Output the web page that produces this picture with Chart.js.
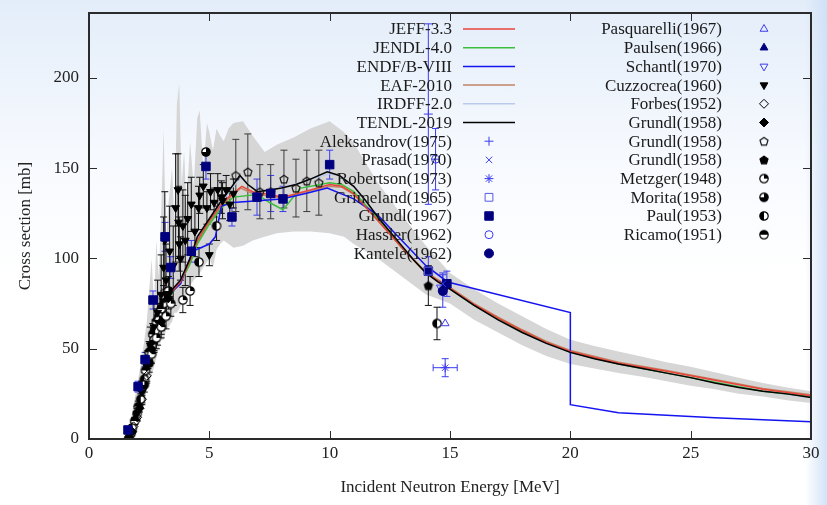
<!DOCTYPE html>
<html>
<head>
<meta charset="utf-8">
<script src="https://cdn.jsdelivr.net/npm/chart.js@4.4.0/dist/chart.umd.min.js"></script>
<style>
html, body { margin: 0; padding: 0; }
body {
	width: 827px;
	height: 505px;
	overflow: hidden;
	background:
		linear-gradient(to left, rgba(205, 224, 247, 0.9) 0px, rgba(255, 255, 255, 0) 22px),
		linear-gradient(to bottom, #e3edf9 0%, #f6f9fe 30%, #ffffff 55%);
}
#wrap { position: relative; width: 827px; height: 505px; }
</style>
</head>
<body>
<div id="wrap"><canvas id="xsCanvas"></canvas></div>
<script>
// evaluated cross sections [MeV] / [mb]
const tendlE = [1.6, 1.8, 2.0, 2.3, 2.6, 3.0, 3.4, 3.8, 4.2, 4.5, 5.0, 5.5, 6.0, 6.27, 6.6, 7.0, 7.5, 8.0, 8.6, 9.2, 9.9, 10.4, 11, 11.5, 12, 12.5, 13, 13.5, 14, 14.5, 15, 16, 17, 18, 19, 20, 21, 22, 23, 24, 25, 26, 27, 28, 29, 30];
const tendlXS = [0, 5, 15, 35, 55, 72, 82, 88, 100, 112, 122, 132, 141, 146, 141, 137, 138, 139, 141, 144, 148, 146, 140, 132, 123, 115, 107, 99, 92, 87, 83, 74, 66, 59, 53, 48, 44.5, 41.5, 39, 36.5, 34, 31, 28.5, 26.5, 25, 23];

const jeffE = [1.6, 1.8, 2.0, 2.3, 2.6, 3.0, 3.4, 3.8, 4.2, 4.5, 5.0, 5.5, 5.8, 6.35, 6.8, 7.5, 8.06, 9.2, 10.0, 10.5, 11, 12, 13, 14, 15, 16, 17, 18, 19, 20, 22, 24, 26, 28, 30];
const jeffXS = [0, 5, 15, 34, 54, 71, 81, 87, 99, 110, 121, 130, 134, 140, 137, 135.5, 134, 138, 141, 140, 136, 121, 106, 92, 83.5, 74.5, 67, 60, 53.5, 48.5, 42, 37.5, 32.5, 27.5, 24];

const jendlE = [1.6, 1.8, 2.0, 2.3, 2.6, 3.0, 3.4, 3.8, 4.2, 4.5, 5.0, 5.5, 6.0, 7.0, 7.5, 8.06, 8.8, 10.0, 10.5, 11, 12, 13, 14, 15, 16, 17, 18, 19, 20, 22, 24, 26, 28, 30];
const jendlXS = [0, 5, 14, 33, 53, 70, 80, 87, 97, 108, 119, 128, 134, 135.5, 131, 127, 139, 142, 141, 137, 122, 106, 92, 83, 74, 66.5, 59.5, 53.5, 48, 41.5, 36.5, 31.5, 26.5, 23.5];

const endfE = [1.6, 1.8, 2.0, 2.3, 2.6, 3.0, 3.4, 3.8, 4.3, 5.0, 5.25, 5.5, 6.0, 7.0, 8.0, 9.0, 9.9, 11, 12, 13, 14, 14.9, 20, 20.001, 22, 26, 30];
const endfXS = [0, 5, 15, 35, 55, 72, 81, 86, 104, 108, 112, 129, 131, 132, 133, 136, 139, 133, 124, 110, 96, 87, 70, 19, 14.5, 11.8, 9.5];

const eafE = [1.6, 1.8, 2.0, 2.3, 2.6, 3.0, 3.4, 3.8, 4.2, 4.5, 5.0, 5.5, 5.8, 6.3, 6.8, 7.5, 8.06, 9.2, 10.0, 10.5, 11, 12, 13, 14, 15, 16, 17, 18, 19, 20, 22, 24, 26, 28, 30];
const eafXS = [0, 5, 15, 34, 54, 71, 81, 86, 98, 109, 120, 129, 133, 139, 136, 134.5, 133.5, 137.5, 140, 139.5, 135.5, 121, 106, 92.5, 84, 75, 67.5, 60.5, 54, 49, 42.5, 38, 33, 28, 24.5];

const irdffE = [1.6, 1.8, 2.0, 2.3, 2.6, 3.0, 3.4, 3.8, 4.2, 4.5, 5.0, 5.5, 6.0, 6.3, 6.7, 7.0, 8.0, 9.0, 10.0, 10.5, 11, 12, 13, 14, 15, 16, 17, 18, 19, 20, 22, 24, 26, 28, 30];
const irdffXS = [0, 5, 15, 35, 55, 72, 82, 88, 100, 111, 121, 131, 140, 145, 140, 137, 139, 143, 147, 145.5, 140, 123, 107, 92, 83, 74, 66, 59, 53, 48, 41.5, 36.5, 31.5, 26.5, 23];

// TENDL uncertainty band
const bandE = [1.6, 1.8, 2.0, 2.2, 2.4, 2.6, 2.7, 2.8, 2.9, 3.0, 3.1, 3.2, 3.3, 3.45, 3.55, 3.65, 3.75, 3.85, 3.95, 4.05, 4.2, 4.35, 4.5, 4.6, 4.75, 4.9, 5.0, 5.15, 5.3, 5.45, 5.6, 5.8, 6.0, 6.4, 6.8, 7.3, 7.8, 8.5, 9.2, 10.0, 10.6, 11, 12, 13, 14, 15, 16, 17, 18, 19, 20, 21, 22, 23, 24, 25, 26, 27, 28, 29, 30];
const bandHi = [3, 15, 30, 45, 65, 100, 75, 110, 90, 125, 172, 110, 130, 150, 120, 185, 197, 140, 160, 130, 165, 140, 178, 182, 150, 175, 170, 160, 172, 168, 165, 172, 175, 176, 168, 159, 163, 167, 172, 176, 170, 164, 142, 124, 107, 92, 83, 75, 68, 61, 55, 51.5, 48.5, 45.5, 42.5, 40, 37, 34, 31, 28.5, 26.5];
const bandLo = [0, 2, 8, 18, 28, 35, 40, 45, 50, 55, 55, 60, 62, 65, 70, 70, 72, 75, 78, 80, 85, 88, 90, 92, 95, 98, 100, 95, 105, 108, 110, 108, 106, 107, 110, 112, 114, 115, 115, 114, 112, 108, 100, 90, 80, 75, 66, 59, 52, 46, 41.5, 39, 36.5, 34.5, 32, 29.5, 27.5, 25, 23.5, 21.5, 20];

// measurements: energy, cross section, uncertainty
const aleksE = [14.1, 14.4];
const aleksXS = [180, 155];
const aleksErr = [50, 0];

const prasadE = [14.7];
const prasadXS = [86];
const prasadErr = [6];

const robertsonE = [14.8];
const robertsonXS = [39.5];
const robertsonErr = [5];
const robertsonXErr = [0.5];

const grimelandE = [14.1];
const grimelandXS = [93];
const grimelandErr = [0];

const grundl67E = [1.62, 2.04, 2.33, 2.66, 3.16, 3.4, 4.25, 4.86, 5.94, 6.98, 7.55, 8.06, 10.0, 14.1, 14.87];
const grundl67XS = [5, 29, 44, 77, 112, 95, 104, 151, 123, 134, 136, 133, 152, 93, 86];
const grundl67Err = [2, 3, 4, 5, 8, 6, 6, 7, 5, 10, 10, 7, 8, 8, 7];

const hasslerE = [14.4];
const hasslerXS = [155];
const hasslerErr = [17];

const kanteleE = [14.7];
const kanteleXS = [82];
const kanteleErr = [9];

const pasquarelliE = [14.8];
const pasquarelliXS = [64];
const pasquarelliErr = [0];

const paulsenE = [14.75];
const paulsenXS = [84];
const paulsenErr = [0];

const schantlE = [14.6];
const schantlXS = [84];
const schantlErr = [0];

const cuzE = [2.0, 2.2, 2.4, 2.55, 2.7, 2.85, 3.0, 3.1, 3.15, 3.2, 3.35, 3.5, 3.6, 3.7, 3.72, 3.75, 3.8, 3.9, 4.0, 4.1, 4.25, 4.4, 4.55, 4.6, 4.75, 4.9, 5.0, 5.05, 5.2, 5.35, 5.5, 5.55, 5.7, 5.85, 6.0];
const cuzXS = [14, 26, 40, 52, 62, 70, 80, 95, 110, 88, 104, 96, 128, 138, 120, 108, 100, 118, 110, 122, 130, 115, 128, 135, 140, 128, 102, 137, 131, 138, 134, 132, 138, 130, 136];
const cuzErr = [4, 6, 8, 10, 14, 18, 22, 28, 27, 20, 25, 22, 30, 20, 20, 15, 12, 20, 25, 20, 15, 14, 12, 10, 12, 9, 6, 10, 8, 9, 9, 10, 8, 9, 8];

const forbesE = [1.7, 1.85, 2.0, 2.2, 2.4];
const forbesXS = [2, 7, 12, 22, 35];
const forbesErr = [1, 2, 2, 3, 4];

const grundl58aE = [1.65, 1.8, 2.1, 2.6, 3.0, 3.3];
const grundl58aXS = [1, 4, 17, 50, 65, 78];
const grundl58aErr = [0.5, 1, 2, 4, 5, 6];

const grundl58bE = [6.1, 6.6, 7.1, 7.55, 8.1, 8.6, 9.05, 9.55];
const grundl58bXS = [146, 148, 137, 137, 144, 139, 143, 142];
const grundl58bErr = [20, 21, 15, 15, 16, 16, 17, 18];

const grundl58cE = [14.1];
const grundl58cXS = [85];
const grundl58cErr = [11];

const metzgerE = [2.6, 2.8, 3.0, 3.2, 3.4, 3.9, 4.2];
const metzgerXS = [47, 56, 62, 68, 75, 77, 82];
const metzgerErr = [5, 6, 6, 7, 7, 7, 8];

const moritaE = [2.3, 2.5, 2.7, 2.9, 3.1, 3.3, 4.86];
const moritaXS = [30, 42, 55, 66, 78, 82, 159];
const moritaErr = [4, 5, 6, 6, 7, 8, 0];

const paulE = [1.8, 2.0, 2.15, 2.3, 2.45, 2.6, 2.75, 2.9, 3.1, 4.57, 5.3, 14.46];
const paulXS = [6, 14, 22, 33, 44, 52, 60, 68, 75, 98, 118, 64];
const paulErr = [2, 3, 3, 4, 5, 5, 6, 7, 7, 8, 8, 9];

const ricamoE = [1.75, 1.9, 2.05, 2.2, 2.35, 2.5, 2.65, 2.8, 3.0];
const ricamoXS = [3, 10, 18, 28, 38, 48, 58, 65, 72];
const ricamoErr = [1, 2, 3, 4, 5, 6, 6, 7, 8];

const xTicks = [0, 5, 10, 15, 20, 25, 30];
const yTicks = [0, 50, 100, 150, 200];

const FONT = '"Liberation Serif", "DejaVu Serif", serif';
const LIGHT_BLUE = "#3b3bef";
const NAVY = "#00007f";

function pts(xs, ys) {
	return xs.map((x, i) => ({ x: x, y: ys[i] }));
}

// small canvases for the markers Chart.js has no style for
function makeMarker(kind, color) {
	const c = document.createElement("canvas");
	c.width = 12;
	c.height = 12;
	const g = c.getContext("2d");
	g.strokeStyle = color;
	g.fillStyle = color;
	g.lineWidth = 1.2;
	const cx = 6;
	const cy = 6;
	const r = 4.2;
	if (kind === "pent" || kind === "pentFill") {
		g.beginPath();
		for (let k = 0; k < 5; k++) {
			const a = -Math.PI / 2 + (k * 2 * Math.PI) / 5;
			const px = cx + r * Math.cos(a);
			const py = cy + 0.4 + r * Math.sin(a);
			if (k === 0) g.moveTo(px, py);
			else g.lineTo(px, py);
		}
		g.closePath();
		if (kind === "pentFill") g.fill();
		g.stroke();
		return c;
	}
	g.beginPath();
	g.arc(cx, cy, r, 0, Math.PI * 2);
	g.fillStyle = "#fff";
	g.fill();
	g.fillStyle = color;
	let a0 = 0;
	let a1 = 0;
	if (kind === "quarter") { a0 = -Math.PI / 2; a1 = 0; }
	if (kind === "threeq") { a0 = -Math.PI / 2; a1 = Math.PI; }
	if (kind === "left") { a0 = Math.PI / 2; a1 = Math.PI * 1.5; }
	if (kind === "top") { a0 = Math.PI; a1 = Math.PI * 2; }
	g.beginPath();
	g.moveTo(cx, cy);
	g.arc(cx, cy, r, a0, a1);
	g.closePath();
	g.fill();
	g.beginPath();
	g.arc(cx, cy, r, 0, Math.PI * 2);
	g.stroke();
	return c;
}

function curve(label, xs, ys, color, order) {
	return {
		label: label,
		data: pts(xs, ys),
		showLine: true,
		borderColor: color,
		backgroundColor: color,
		borderWidth: 1.5,
		pointRadius: 0,
		pointHoverRadius: 0,
		fill: false,
		tension: 0,
		order: order,
		legendType: "line",
	};
}

function measured(label, xs, ys, errs, mk, errColor, xErrs) {
	return {
		label: label,
		data: pts(xs, ys),
		showLine: false,
		pointStyle: mk.style,
		pointRadius: mk.radius,
		pointHoverRadius: mk.radius,
		pointRotation: mk.rotation || 0,
		pointBorderColor: mk.color,
		pointBackgroundColor: mk.filled ? mk.color : "rgba(0,0,0,0)",
		pointBorderWidth: mk.width || 1,
		borderColor: mk.color,
		backgroundColor: mk.filled ? mk.color : "rgba(0,0,0,0)",
		order: 1,
		errors: errs,
		xErrors: xErrs || null,
		errColor: errColor,
		legendType: "point",
	};
}

const datasets = [
	{
		label: "band",
		data: pts(bandE, bandHi),
		showLine: true,
		borderWidth: 0,
		borderColor: "rgba(0,0,0,0)",
		backgroundColor: "#d6d6d6",
		pointRadius: 0,
		fill: "+1",
		order: 20,
		legendType: "none",
	},
	{
		label: "bandLo",
		data: pts(bandE, bandLo),
		showLine: true,
		borderWidth: 0,
		borderColor: "rgba(0,0,0,0)",
		pointRadius: 0,
		fill: false,
		order: 20,
		legendType: "none",
	},
	curve("JEFF-3.3", jeffE, jeffXS, "#e8453c", 8.6),
	curve("JENDL-4.0", jendlE, jendlXS, "#3cbf3c", 8.8),
	curve("ENDF/B-VIII", endfE, endfXS, "#1414f2", 8.7),
	curve("EAF-2010", eafE, eafXS, "#c08566", 8.9),
	curve("IRDFF-2.0", irdffE, irdffXS, "#b9c9e9", 9),
	curve("TENDL-2019", tendlE, tendlXS, "#000000", 8.5),
	measured("Aleksandrov(1975)", aleksE, aleksXS, aleksErr, { style: "cross", radius: 4.5, color: LIGHT_BLUE }, LIGHT_BLUE),
	measured("Prasad(1970)", prasadE, prasadXS, prasadErr, { style: "crossRot", radius: 4.5, color: LIGHT_BLUE }, LIGHT_BLUE),
	measured("Robertson(1973)", robertsonE, robertsonXS, robertsonErr, { style: "star", radius: 4.5, color: LIGHT_BLUE }, LIGHT_BLUE, robertsonXErr),
	measured("Grimeland(1965)", grimelandE, grimelandXS, grimelandErr, { style: "rect", radius: 5.5, color: "#5a5ae0" }, LIGHT_BLUE),
	measured("Grundl(1967)", grundl67E, grundl67XS, grundl67Err, { style: "rect", radius: 6, color: NAVY, filled: true }, LIGHT_BLUE),
	measured("Hassler(1962)", hasslerE, hasslerXS, hasslerErr, { style: "circle", radius: 4, color: LIGHT_BLUE }, LIGHT_BLUE),
	measured("Kantele(1962)", kanteleE, kanteleXS, kanteleErr, { style: "circle", radius: 4.5, color: NAVY, filled: true }, LIGHT_BLUE),
	measured("Pasquarelli(1967)", pasquarelliE, pasquarelliXS, pasquarelliErr, { style: "triangle", radius: 4.5, color: LIGHT_BLUE }, LIGHT_BLUE),
	measured("Paulsen(1966)", paulsenE, paulsenXS, paulsenErr, { style: "triangle", radius: 4.5, color: NAVY, filled: true }, LIGHT_BLUE),
	measured("Schantl(1970)", schantlE, schantlXS, schantlErr, { style: "triangle", radius: 4.5, rotation: 180, color: LIGHT_BLUE }, LIGHT_BLUE),
	measured("Cuzzocrea(1960)", cuzE, cuzXS, cuzErr, { style: "triangle", radius: 4.5, rotation: 180, color: "#000", filled: true }, "#111"),
	measured("Forbes(1952)", forbesE, forbesXS, forbesErr, { style: "rectRot", radius: 4.5, color: "#000" }, "#111"),
	measured("Grundl(1958)", grundl58aE, grundl58aXS, grundl58aErr, { style: "rectRot", radius: 4.5, color: "#000", filled: true }, "#111"),
	measured("Grundl(1958)", grundl58bE, grundl58bXS, grundl58bErr, { style: makeMarker("pent", "#111"), radius: 5, color: "#111" }, "#3a3a3a"),
	measured("Grundl(1958)", grundl58cE, grundl58cXS, grundl58cErr, { style: makeMarker("pentFill", "#000"), radius: 5, color: "#000" }, "#111"),
	measured("Metzger(1948)", metzgerE, metzgerXS, metzgerErr, { style: makeMarker("quarter", "#000"), radius: 5, color: "#000" }, "#111"),
	measured("Morita(1958)", moritaE, moritaXS, moritaErr, { style: makeMarker("threeq", "#000"), radius: 5, color: "#000" }, "#111"),
	measured("Paul(1953)", paulE, paulXS, paulErr, { style: makeMarker("left", "#000"), radius: 5, color: "#000" }, "#111"),
	measured("Ricamo(1951)", ricamoE, ricamoXS, ricamoErr, { style: makeMarker("top", "#000"), radius: 5, color: "#000" }, "#111"),
];

// error bars go right above the grey band, under curves and markers
const errorBars = {
	id: "errorBars",
	afterDatasetDraw(chart, args) {
		if (args.index !== 0) return;
		const ctx = chart.ctx;
		const xs = chart.scales.x;
		const ys = chart.scales.y;
		const area = chart.chartArea;
		ctx.save();
		ctx.beginPath();
		ctx.rect(area.left, area.top, area.right - area.left, area.bottom - area.top);
		ctx.clip();
		ctx.lineWidth = 1;
		for (const ds of chart.data.datasets) {
			if (!ds.errors) continue;
			ctx.strokeStyle = ds.errColor;
			ds.data.forEach((p, i) => {
				const px = xs.getPixelForValue(p.x);
				const py = ys.getPixelForValue(p.y);
				const e = ds.errors[i];
				ctx.beginPath();
				if (e > 0) {
					const top = ys.getPixelForValue(p.y + e);
					const bot = ys.getPixelForValue(p.y - e);
					ctx.moveTo(px, top);
					ctx.lineTo(px, bot);
					ctx.moveTo(px - 3.5, top);
					ctx.lineTo(px + 3.5, top);
					ctx.moveTo(px - 3.5, bot);
					ctx.lineTo(px + 3.5, bot);
				}
				const xe = ds.xErrors ? ds.xErrors[i] : 0;
				if (xe > 0) {
					const l = xs.getPixelForValue(p.x - xe);
					const r = xs.getPixelForValue(p.x + xe);
					ctx.moveTo(l, py);
					ctx.lineTo(r, py);
					ctx.moveTo(l, py - 3.5);
					ctx.lineTo(l, py + 3.5);
					ctx.moveTo(r, py - 3.5);
					ctx.lineTo(r, py + 3.5);
				}
				ctx.stroke();
			});
		}
		ctx.restore();
	},
};

// gnuplot style frame with inward ticks, plus the two-column key
const frameAndKey = {
	id: "frameAndKey",
	afterDraw(chart) {
		const ctx = chart.ctx;
		const a = chart.chartArea;
		const xs = chart.scales.x;
		const ys = chart.scales.y;
		ctx.save();
		ctx.strokeStyle = "#2b2b2b";
		ctx.lineWidth = 1;
		ctx.beginPath();
		for (const v of xTicks) {
			const px = Math.round(xs.getPixelForValue(v)) + 0.5;
			ctx.moveTo(px, a.bottom);
			ctx.lineTo(px, a.bottom - 8);
			ctx.moveTo(px, a.top);
			ctx.lineTo(px, a.top + 8);
		}
		for (const v of yTicks) {
			const py = Math.round(ys.getPixelForValue(v)) + 0.5;
			ctx.moveTo(a.left, py);
			ctx.lineTo(a.left + 8, py);
			ctx.moveTo(a.right, py);
			ctx.lineTo(a.right - 8, py);
		}
		ctx.stroke();
		ctx.lineWidth = 2;
		ctx.strokeRect(a.left, a.top, a.right - a.left, a.bottom - a.top);

		const entries = chart.data.datasets.filter((d) => d.legendType !== "none");
		const rowY0 = 29;
		const rowStep = 18.7;
		const cols = [
			{ textRight: 452, sample: 489, lineFrom: 463, lineTo: 515 },
			{ textRight: 722, sample: 764, lineFrom: 737, lineTo: 790 },
		];
		ctx.font = "17px " + FONT;
		ctx.textAlign = "right";
		ctx.textBaseline = "middle";
		entries.forEach((ds, i) => {
			const col = i < 13 ? cols[0] : cols[1];
			const row = i < 13 ? i : i - 13;
			const y = rowY0 + row * rowStep;
			ctx.fillStyle = "#1a1a1a";
			ctx.fillText(ds.label, col.textRight, y + 1);
			if (ds.legendType === "line") {
				ctx.strokeStyle = ds.borderColor;
				ctx.lineWidth = 1.5;
				ctx.beginPath();
				ctx.moveTo(col.lineFrom, y);
				ctx.lineTo(col.lineTo, y);
				ctx.stroke();
			} else {
				ctx.strokeStyle = ds.pointBorderColor;
				ctx.fillStyle = ds.pointBackgroundColor;
				ctx.lineWidth = ds.pointBorderWidth;
				Chart.helpers.drawPoint(
					ctx,
					{
						pointStyle: ds.pointStyle,
						radius: ds.pointRadius,
						rotation: ds.pointRotation,
						borderWidth: ds.pointBorderWidth,
					},
					col.sample,
					y,
				);
			}
		});
		ctx.restore();
	},
};

const ctx = document.getElementById("xsCanvas").getContext("2d");
new Chart(ctx, {
	type: "scatter",
	data: { datasets: datasets },
	options: {
		responsive: true,
		maintainAspectRatio: false,
		animation: false,
		events: [],
		layout: { padding: { left: 0, right: 16, top: 13, bottom: 0 } },
		plugins: {
			legend: { display: false },
			tooltip: { enabled: false },
			filler: { propagate: false },
		},
		scales: {
			x: {
				type: "linear",
				min: 0,
				max: 30,
				grid: { display: false, drawTicks: false },
				border: { display: false },
				afterBuildTicks: (s) => {
					s.ticks = xTicks.map((v) => ({ value: v }));
				},
				afterFit: (s) => {
					s.height = 66;
					s.paddingLeft = 0;
					s.paddingRight = 0;
				},
				ticks: {
					padding: 4,
					color: "#222",
					font: { family: FONT, size: 17 },
					maxRotation: 0,
				},
				title: {
					display: true,
					text: "Incident Neutron Energy [MeV]",
					color: "#222",
					font: { family: FONT, size: 17 },
					padding: { top: 0, bottom: 7 },
				},
			},
			y: {
				type: "linear",
				min: 0,
				max: 236,
				grid: { display: false, drawTicks: false },
				border: { display: false },
				afterBuildTicks: (s) => {
					s.ticks = yTicks.map((v) => ({ value: v }));
				},
				afterFit: (s) => {
					s.width = 89;
					s.paddingTop = 0;
					s.paddingBottom = 0;
				},
				ticks: {
					padding: 10,
					color: "#222",
					font: { family: FONT, size: 17 },
				},
				title: {
					display: true,
					text: "Cross section [mb]",
					color: "#222",
					font: { family: FONT, size: 17 },
					padding: { top: 15, bottom: 0 },
				},
			},
		},
	},
	plugins: [errorBars, frameAndKey],
});
</script>
</body>
</html>
